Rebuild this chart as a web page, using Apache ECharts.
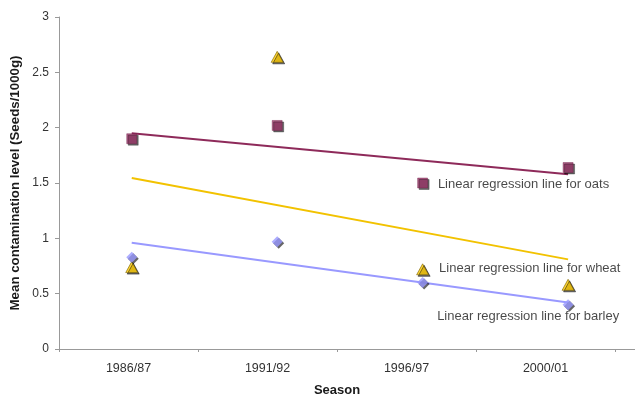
<!DOCTYPE html>
<html><head><meta charset="utf-8">
<script src="https://cdn.jsdelivr.net/npm/echarts@6/dist/echarts.min.js"></script>
<style>html,body{margin:0;padding:0;background:#fff}#c{width:635px;height:399px}</style>
</head><body><div id="c"></div>
<script>
var seasons = ['1986/87', '1991/92', '1996/97', '2000/01'];
var yTicks = [0, 0.5, 1, 1.5, 2, 2.5, 3];
var oats = [1.90, 2.02, 1.50, 1.64];
var wheat = [0.74, 2.64, 0.72, 0.58];
var barley = [0.83, 0.97, 0.60, 0.40];
var oatsTrend = [1.95, null, null, 1.58];
var wheatTrend = [1.545, null, null, 0.81];
var barleyTrend = [0.96, null, null, 0.42];
var noteOats = 'Linear regression line for oats';
var noteWheat = 'Linear regression line for wheat';
var noteBarley = 'Linear regression line for barley';

var FONT = 'Liberation Sans, Arial, sans-serif';
var chart = echarts.init(document.getElementById('c'), null, {renderer: 'canvas'});

function noteLabel(text, dx, dy) {
  return {show: true, position: 'right', distance: 10, offset: [dx, dy], formatter: text,
    color: '#1a1a1a', fontFamily: FONT, fontSize: 13};
}
function pts(values, noteIdx, label) {
  return values.map(function (v, i) {
    var d = {value: [i, v]};
    if (i === noteIdx) d.label = label;
    return d;
  });
}
function trend(values) {
  return values.map(function (v, i) { return [i, v]; }).filter(function (p) { return p[1] !== null; });
}
var shadow = {shadowColor: 'rgba(0,0,0,0.75)', shadowOffsetX: 1.5, shadowOffsetY: 1.5, shadowBlur: 0};

chart.setOption({
  animation: false,
  grid: [
    {left: 59, top: 17, right: 0, height: 332, outerBoundsMode: 'none', containLabel: false},
    {left: 59, top: 17, width: 556, height: 332, outerBoundsMode: 'none', containLabel: false}
  ],
  xAxis: [
    {type: 'value', gridIndex: 0, min: -0.5, max: 3.46,
      axisLine: {show: true, onZero: false, lineStyle: {color: '#999', width: 1}},
      axisTick: {show: false}, axisLabel: {show: false}, splitLine: {show: false}},
    {type: 'category', gridIndex: 1, data: seasons, boundaryGap: true,
      axisLine: {show: false, onZero: false},
      axisTick: {show: true, length: 3, lineStyle: {color: '#999'}},
      axisLabel: {color: '#333', fontFamily: FONT, fontSize: 12.5, margin: 13},
      name: 'Season', nameLocation: 'middle', nameGap: 35,
      nameTextStyle: {color: '#1a1a1a', fontFamily: FONT, fontSize: 13, fontWeight: 'bold'}}
  ],
  yAxis: [
    {type: 'value', gridIndex: 0, min: yTicks[0], max: yTicks[yTicks.length - 1], interval: yTicks[1] - yTicks[0],
      axisLine: {show: true, onZero: false, lineStyle: {color: '#999', width: 1}},
      axisTick: {show: true, length: 4, lineStyle: {color: '#999'}},
      axisLabel: {color: '#333', fontFamily: FONT, fontSize: 12, margin: 10},
      splitLine: {show: false},
      name: 'Mean contamination level (Seeds/1000g)', nameLocation: 'middle', nameGap: 34,
      nameTextStyle: {color: '#1a1a1a', fontFamily: FONT, fontSize: 13.3, fontWeight: 'bold'}},
    {type: 'value', gridIndex: 1, min: 0, max: 3, show: false}
  ],
  series: [
    {type: 'line', xAxisIndex: 0, yAxisIndex: 0, data: trend(oatsTrend), symbol: 'none',
      lineStyle: {color: '#8e2a5a', width: 2}, z: 2},
    {type: 'line', xAxisIndex: 0, yAxisIndex: 0, data: trend(wheatTrend), symbol: 'none',
      lineStyle: {color: '#f2c200', width: 2}, z: 2},
    {type: 'line', xAxisIndex: 0, yAxisIndex: 0, data: trend(barleyTrend), symbol: 'none',
      lineStyle: {color: '#9999ff', width: 2}, z: 2},
    {type: 'scatter', xAxisIndex: 0, yAxisIndex: 0, symbol: 'rect', symbolSize: 10,
      data: pts(oats, 2, noteLabel(noteOats, 0, 1)),
      itemStyle: Object.assign({color: '#993366', borderColor: '#6e1f47', borderWidth: 0.5}, shadow), z: 4},
    {type: 'scatter', xAxisIndex: 0, yAxisIndex: 0, symbol: 'triangle', symbolSize: [12, 11],
      data: pts(wheat, 2, noteLabel(noteWheat, 0, -1)),
      itemStyle: Object.assign({color: '#ffcc00', borderColor: '#7a6200', borderWidth: 0.8}, shadow), z: 4},
    {type: 'scatter', xAxisIndex: 0, yAxisIndex: 0, symbol: 'diamond', symbolSize: [11, 11],
      data: pts(barley, 2, noteLabel(noteBarley, -1, 34)),
      itemStyle: Object.assign({color: '#9999ff'}, shadow), z: 4}
  ]
});
</script></body></html>
